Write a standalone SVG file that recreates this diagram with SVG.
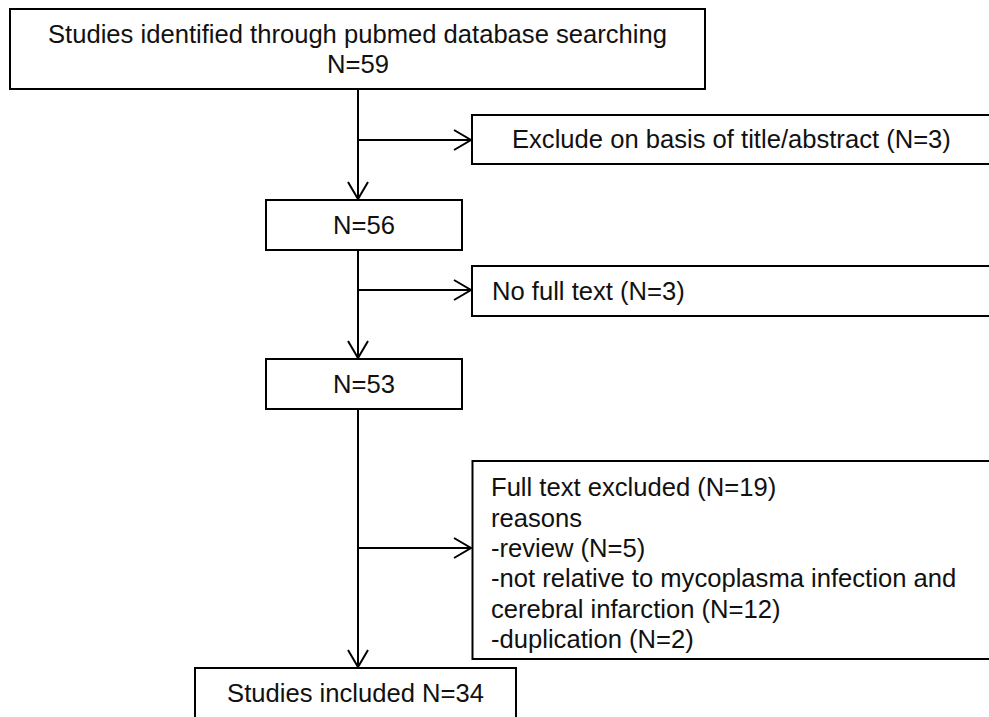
<svg xmlns="http://www.w3.org/2000/svg" width="989" height="717" viewBox="0 0 989 717">
<style>
.box{fill:#fff;stroke:#000;stroke-width:2}
.t{font-family:"Liberation Sans",Arial,sans-serif;font-size:25.6px;fill:#111}
.c{text-anchor:middle}
.conn{fill:none;stroke:#000;stroke-width:2}
</style>
<defs>
<marker id="arr" markerUnits="userSpaceOnUse" viewBox="-19 -12 21 24" markerWidth="21" markerHeight="24" refX="0" refY="0" orient="auto">
<path d="M-17,-10 L0,0 L-17,10" fill="none" stroke="#000" stroke-width="2"/>
</marker>
</defs>
<rect width="989" height="717" fill="#fff"/>
<g id="connectors">
<path class="conn" d="M358,89 V199" marker-end="url(#arr)"/>
<path class="conn" d="M358,140 H471" marker-end="url(#arr)"/>
<path class="conn" d="M358,250 V358" marker-end="url(#arr)"/>
<path class="conn" d="M358,290 H471" marker-end="url(#arr)"/>
<path class="conn" d="M358,409 V667" marker-end="url(#arr)"/>
<path class="conn" d="M358,548 H471" marker-end="url(#arr)"/>
</g>
<g id="n-identified">
<rect class="box" x="10" y="9" width="695" height="80"/>
<text class="t c" x="357.5" y="43">Studies identified through pubmed database searching</text>
<text class="t c" x="358" y="73">N=59</text>
</g>
<g id="n-exclude-title">
<rect class="box" x="472" y="115" width="520" height="49"/>
<text class="t" x="512" y="148">Exclude on basis of title/abstract (N=3)</text>
</g>
<g id="n-56">
<rect class="box" x="266" y="200" width="196" height="50"/>
<text class="t c" x="364" y="234">N=56</text>
</g>
<g id="n-nofulltext">
<rect class="box" x="472" y="266" width="520" height="50"/>
<text class="t" x="492" y="300">No full text (N=3)</text>
</g>
<g id="n-53">
<rect class="box" x="266" y="359" width="196" height="50"/>
<text class="t c" x="364" y="393">N=53</text>
</g>
<g id="n-fulltext-excluded">
<rect class="box" x="472.5" y="461" width="520" height="198"/>
<text class="t" x="491" y="496">Full text excluded (N=19)</text>
<text class="t" x="491" y="526.5">reasons</text>
<text class="t" x="491" y="557">-review (N=5)</text>
<text class="t" x="491" y="587">-not relative to mycoplasma infection and</text>
<text class="t" x="491" y="617.5">cerebral infarction (N=12)</text>
<text class="t" x="491" y="648">-duplication (N=2)</text>
</g>
<g id="n-included">
<rect class="box" x="195" y="668" width="321" height="60"/>
<text class="t c" x="355.5" y="702">Studies included N=34</text>
</g>
</svg>
